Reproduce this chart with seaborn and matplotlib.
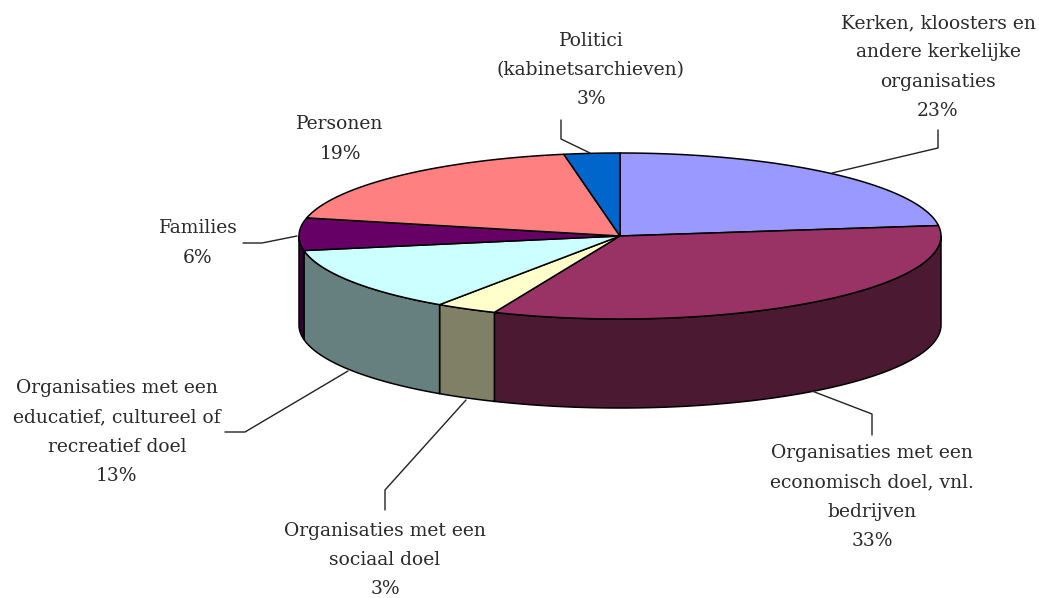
import numpy as np
import matplotlib
matplotlib.use('Agg')
import matplotlib.pyplot as plt
import seaborn as sns

sns.set_theme(style='white')
plt.rcParams['font.family'] = ['DejaVu Serif']

# Data, clockwise from 12 o'clock (slices, labels show them rounded)
labels = ['Kerken, kloosters en\nandere kerkelijke\norganisaties',
          'Organisaties met een\neconomisch doel, vnl.\nbedrijven',
          'Organisaties met een\nsociaal doel',
          'Organisaties met een\neducatief, cultureel of\nrecreatief doel',
          'Families',
          'Personen',
          'Politici\n(kabinetsarchieven)']
shares = [23.0, 33.4, 3.1, 12.7, 6.3, 18.7, 2.8]
top_colors = ['#9999FF', '#993366', '#FFFFCC', '#CCFFFF', '#660066', '#FF8080', '#0066CC']
side_colors = ['#4C4C80', '#4C1933', '#808066', '#668080', '#330033', '#804040', '#003366']

# Pie layout in pixels
cx, cy = 620, 236
rx, ry = 321, 83
depth = 89
label_pos = [(938, 67), (872, 497), (385, 560), (117, 432), (198, 243), (340, 139), (591, 70)]
leaders = [[(938, 130), (938, 148), (832, 173)],
           [(872, 435), (872, 414), (812, 391)],
           [(385, 510), (385, 490), (466, 400)],
           [(225, 432), (245, 432), (348, 371)],
           [(243, 243), (262, 243), (297, 236)],
           None,
           [(561, 120), (561, 139), (590, 153)]]


def arc(a0, a1):
    t = np.radians(np.linspace(a0, a1, 120))
    return cx + rx * np.sin(t), cy - ry * np.cos(t)


fig, ax = plt.subplots(figsize=(10.39, 5.98), dpi=100)
ax.set_position([0, 0, 1, 1])
ax.set_xlim(0, 1039)
ax.set_ylim(598, 0)
ax.axis('off')

edges = np.cumsum([0] + shares) * 3.6

# Rim: only the part of the circle facing the viewer (90 to 270 degrees)
for i in range(len(shares)):
    a0, a1 = max(edges[i], 90), min(edges[i + 1], 270)
    if a0 >= a1:
        continue
    x, y = arc(a0, a1)
    ax.fill(np.r_[x, x[::-1]], np.r_[y, y[::-1] + depth],
            facecolor=side_colors[i], edgecolor='black', lw=1.1, zorder=2)

# Top faces
for i in range(len(shares)):
    x, y = arc(edges[i], edges[i + 1])
    ax.fill(np.r_[cx, x], np.r_[cy, y],
            facecolor=top_colors[i], edgecolor='black', lw=1.1, zorder=3)

# Labels and leader lines
for label, share, pos, line in zip(labels, shares, label_pos, leaders):
    ax.text(pos[0], pos[1], f'{label}\n{round(share)}%', ha='center', va='center',
            fontsize=13.5, linespacing=1.79, color='#2a2a2a', zorder=5)
    if line:
        ax.plot([p[0] for p in line], [p[1] for p in line], color='#222222', lw=1, zorder=4)

fig.savefig('out.png', dpi=100, facecolor='white')
